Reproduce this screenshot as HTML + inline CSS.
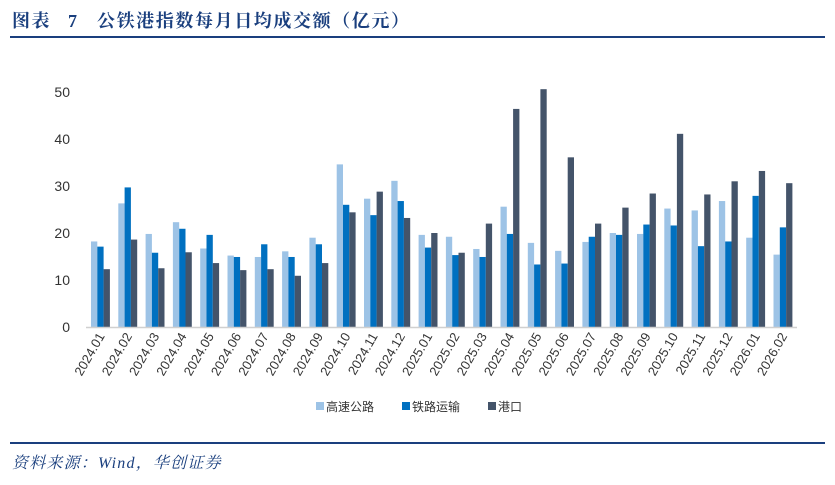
<!DOCTYPE html>
<html><head><meta charset="utf-8"><style>
body{margin:0;background:#fff;width:835px;height:480px;overflow:hidden;font-family:"Liberation Sans","Noto Sans CJK SC",sans-serif}
</style></head><body>
<svg width="835" height="480">
<g font-size="18" font-weight="bold" fill="#1a3f7e" font-family="Liberation Serif,Noto Serif CJK SC,serif">
<text x="12" y="27" letter-spacing="1.5">图表</text>
<text x="68" y="27">7</text>
<text x="97" y="27" letter-spacing="1.6">公铁港指数每月日均成交额（亿元）</text>
</g>
<line x1="10" y1="37" x2="825" y2="37" stroke="#1a3f7e" stroke-width="2"/>
<line x1="10" y1="443" x2="825" y2="443" stroke="#1a3f7e" stroke-width="2"/>
<text x="12" y="468" font-size="16" letter-spacing="1.2" font-style="italic" fill="#1a3f7e" font-family="Liberation Serif,Noto Serif CJK SC,serif">资料来源：Wind，华创证券</text>
<g id="plot"></g>
<g>
<rect x="316" y="402" width="8" height="8" fill="#9dc3e6"/>
<text x="326" y="411" font-size="12" fill="#333">高速公路</text>
<rect x="402" y="402" width="8" height="8" fill="#0070c0"/>
<text x="412" y="411" font-size="12" fill="#333">铁路运输</text>
<rect x="488" y="402" width="8" height="8" fill="#44546a"/>
<text x="498" y="411" font-size="12" fill="#333">港口</text>
</g>
</svg>
<script>
const categories=["2024.01","2024.02","2024.03","2024.04","2024.05","2024.06","2024.07","2024.08","2024.09","2024.10","2024.11","2024.12","2025.01","2025.02","2025.03","2025.04","2025.05","2025.06","2025.07","2025.08","2025.09","2025.10","2025.11","2025.12","2026.01","2026.02"];
const highway=[18.2,26.3,19.8,22.3,16.7,15.2,14.9,16.1,19.0,34.6,27.3,31.1,19.6,19.2,16.6,25.6,17.9,16.2,18.1,20.0,19.8,25.2,24.8,26.8,19.0,15.4];
const railway=[17.1,29.7,15.8,20.9,19.6,14.9,17.6,14.9,17.6,26.0,23.8,26.8,16.9,15.3,14.9,19.8,13.3,13.5,19.2,19.6,21.8,21.6,17.2,18.2,27.9,21.2];
const port=[12.3,18.6,12.5,15.9,13.6,12.1,12.3,10.9,13.6,24.4,28.8,23.2,20.0,15.8,22.0,46.4,50.6,36.1,22.0,25.4,28.4,41.1,28.2,31.0,33.2,30.6];
const yTicks=[0,10,20,30,40,50];
const NS="http://www.w3.org/2000/svg";
const g=document.getElementById('plot');
const left=87.5,bw=27.3,y0=327,pxPer=4.7;
const y=v=>y0-v*pxPer;
const x=i=>left+i*bw;
function mk(t,a){const e=document.createElementNS(NS,t);for(const k in a)e.setAttribute(k,a[k]);g.appendChild(e);return e;}
yTicks.forEach(t=>{const e=mk('text',{x:70,y:y(t)+5,'font-size':14,fill:'#333','text-anchor':'end'});e.textContent=t;

});
const series=[[highway,'#9dc3e6','highway'],[railway,'#0070c0','railway'],[port,'#44546a','port']];
categories.forEach((c,i)=>{
 series.forEach((s,j)=>{const v=s[0][i];const r=mk('rect',{x:x(i)+3.5+j*6.3,y:y(v),width:6.3,height:v*pxPer,fill:s[1]});
 
 });
 const cx=x(i)+bw/2+4;
 const t=mk('text',{x:cx,y:336,'font-size':13,fill:'#333','text-anchor':'end',transform:`rotate(-60 ${cx} 336)`});t.textContent=c;
 
 
});
const ax=mk('line',{x1:86,y1:y0+0.5,x2:797,y2:y0+0.5,stroke:'#d0d0d0','stroke-width':1.5});


</script>
</body></html>
